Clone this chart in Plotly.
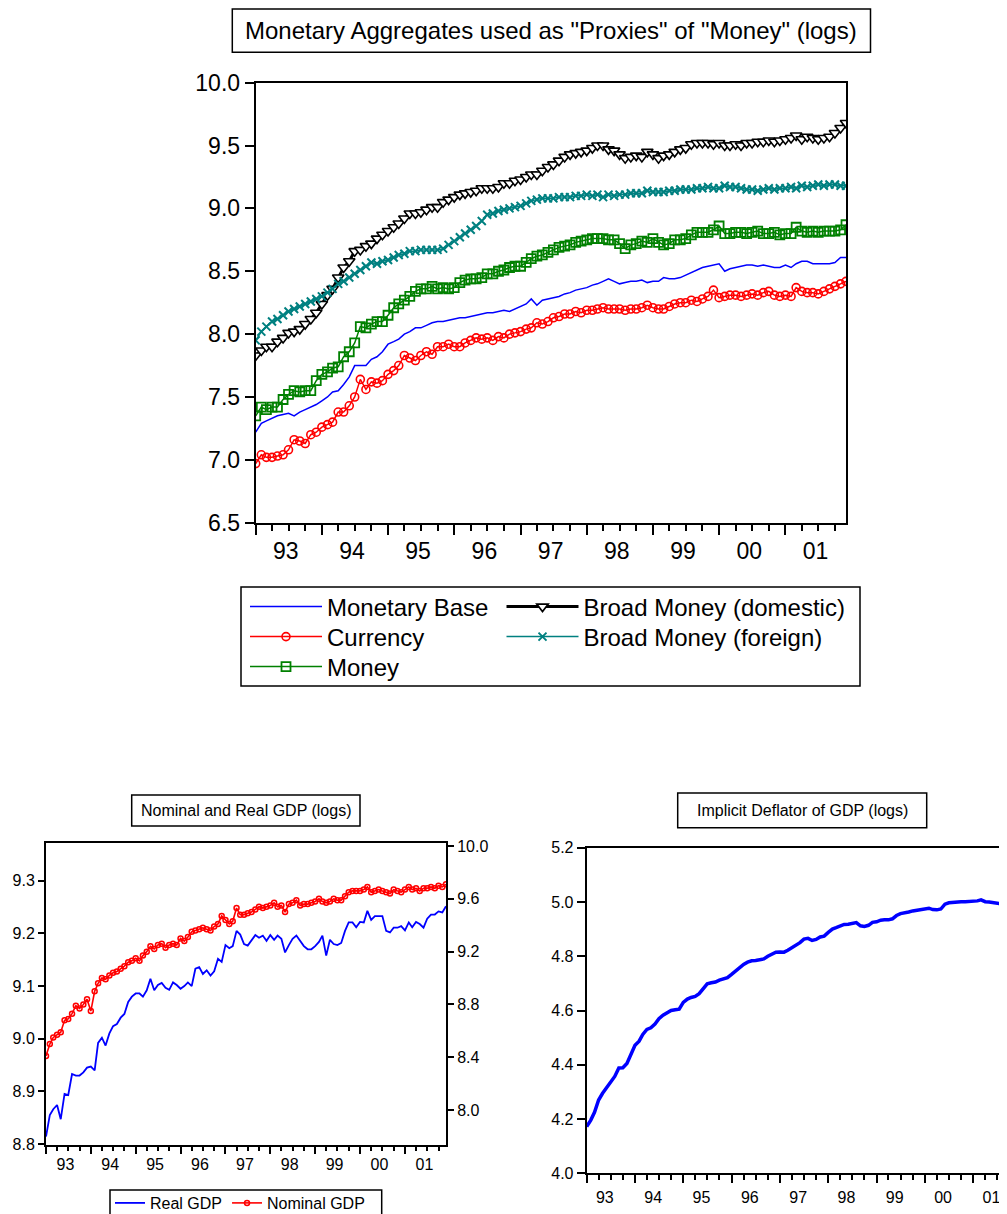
import pandas as pd
import plotly.graph_objects as go

# ---------------- data (monthly, 1993M1 - 2001M12) ----------------
months = pd.date_range("1993-01-01", periods=108, freq="MS")

monetary_base = [
    7.22, 7.29, 7.31, 7.33, 7.35, 7.36, 7.37, 7.35, 7.38, 7.40, 7.42, 7.44,
    7.47, 7.50, 7.54, 7.55, 7.60, 7.66, 7.75, 7.75, 7.75, 7.80, 7.82, 7.86,
    7.92, 7.94, 7.96, 8.00, 8.02, 8.05, 8.05, 8.07, 8.09, 8.10, 8.10, 8.11,
    8.12, 8.13, 8.13, 8.14, 8.15, 8.16, 8.17, 8.17, 8.18, 8.19, 8.18, 8.20,
    8.22, 8.24, 8.28, 8.23, 8.27, 8.28, 8.29, 8.30, 8.32, 8.33, 8.35, 8.36,
    8.37, 8.39, 8.40, 8.42, 8.44, 8.42, 8.40, 8.41, 8.42, 8.42, 8.43, 8.41,
    8.42, 8.42, 8.45, 8.44, 8.44, 8.45, 8.47, 8.49, 8.51, 8.53, 8.54, 8.55,
    8.56, 8.50, 8.52, 8.53, 8.54, 8.55, 8.55, 8.54, 8.55, 8.54, 8.53, 8.53,
    8.55, 8.53, 8.56, 8.58, 8.58, 8.56, 8.56, 8.56, 8.56, 8.57, 8.61, 8.61]

currency = [
    6.97, 7.04, 7.02, 7.02, 7.03, 7.04, 7.08, 7.16, 7.15, 7.13, 7.20, 7.22,
    7.26, 7.28, 7.30, 7.38, 7.38, 7.43, 7.50, 7.64, 7.56, 7.62, 7.61, 7.63,
    7.68, 7.71, 7.75, 7.83, 7.81, 7.79, 7.83, 7.86, 7.84, 7.90, 7.90, 7.92,
    7.90, 7.90, 7.93, 7.95, 7.97, 7.96, 7.97, 7.95, 7.98, 7.97, 8.00, 8.01,
    8.02, 8.04, 8.05, 8.09, 8.08, 8.10, 8.13, 8.14, 8.16, 8.16, 8.18, 8.17,
    8.19, 8.19, 8.20, 8.21, 8.20, 8.20, 8.20, 8.19, 8.20, 8.20, 8.21, 8.23,
    8.21, 8.20, 8.20, 8.22, 8.24, 8.25, 8.25, 8.27, 8.26, 8.28, 8.30, 8.35,
    8.29, 8.30, 8.31, 8.31, 8.30, 8.31, 8.32, 8.31, 8.33, 8.34, 8.31, 8.30,
    8.31, 8.30, 8.37, 8.34, 8.33, 8.33, 8.32, 8.34, 8.36, 8.38, 8.40, 8.42]

money = [
    7.35, 7.42, 7.40, 7.42, 7.42, 7.48, 7.52, 7.55, 7.54, 7.55, 7.55, 7.63,
    7.68, 7.70, 7.73, 7.74, 7.82, 7.86, 7.93, 8.06, 8.05, 8.08, 8.10, 8.10,
    8.15, 8.21, 8.24, 8.27, 8.30, 8.34, 8.36, 8.36, 8.38, 8.36, 8.37, 8.36,
    8.37, 8.41, 8.43, 8.44, 8.44, 8.45, 8.48, 8.48, 8.50, 8.51, 8.53, 8.54,
    8.54, 8.57, 8.60, 8.62, 8.63, 8.65, 8.67, 8.69, 8.70, 8.71, 8.73, 8.74,
    8.75, 8.76, 8.76, 8.76, 8.75, 8.75, 8.72, 8.68, 8.71, 8.72, 8.74, 8.73,
    8.76, 8.73, 8.71, 8.72, 8.75, 8.75, 8.76, 8.79, 8.81, 8.81, 8.81, 8.83,
    8.86, 8.80, 8.80, 8.81, 8.81, 8.80, 8.81, 8.82, 8.80, 8.80, 8.81, 8.79,
    8.80, 8.80, 8.85, 8.82, 8.81, 8.82, 8.81, 8.82, 8.82, 8.82, 8.83, 8.87]

broad_money_domestic = [
    7.83, 7.87, 7.90, 7.90, 7.94, 7.97, 8.01, 8.02, 8.04, 8.08, 8.12, 8.17,
    8.24, 8.31, 8.36, 8.45, 8.53, 8.58, 8.66, 8.67, 8.70, 8.72, 8.76, 8.79,
    8.82, 8.85, 8.88, 8.92, 8.96, 8.96, 8.97, 8.99, 9.01, 9.01, 9.05, 9.07,
    9.09, 9.11, 9.12, 9.13, 9.14, 9.16, 9.16, 9.16, 9.17, 9.20, 9.20, 9.22,
    9.23, 9.25, 9.27, 9.27, 9.30, 9.33, 9.35, 9.38, 9.41, 9.43, 9.44, 9.45,
    9.46, 9.48, 9.50, 9.50, 9.47, 9.46, 9.43, 9.40, 9.41, 9.42, 9.41, 9.45,
    9.43, 9.40, 9.42, 9.43, 9.45, 9.47, 9.48, 9.51, 9.52, 9.52, 9.52, 9.51,
    9.52, 9.50, 9.50, 9.51, 9.50, 9.52, 9.52, 9.53, 9.53, 9.54, 9.53, 9.54,
    9.55, 9.56, 9.58, 9.55, 9.57, 9.56, 9.55, 9.56, 9.57, 9.60, 9.64, 9.68]

broad_money_foreign = [
    7.95, 8.02, 8.06, 8.10, 8.12, 8.15, 8.18, 8.20, 8.22, 8.24, 8.26, 8.28,
    8.30, 8.33, 8.36, 8.40, 8.42, 8.45, 8.48, 8.51, 8.54, 8.57, 8.56, 8.58,
    8.59, 8.61, 8.63, 8.64, 8.66, 8.66, 8.67, 8.67, 8.67, 8.67, 8.68, 8.71,
    8.74, 8.77, 8.80, 8.83, 8.86, 8.90, 8.95, 8.96, 8.98, 8.99, 9.00, 9.01,
    9.02, 9.04, 9.06, 9.07, 9.08, 9.08, 9.08, 9.09, 9.09, 9.09, 9.10, 9.10,
    9.11, 9.10, 9.11, 9.09, 9.11, 9.10, 9.11, 9.11, 9.12, 9.12, 9.12, 9.14,
    9.13, 9.13, 9.13, 9.14, 9.14, 9.15, 9.15, 9.15, 9.16, 9.16, 9.17, 9.16,
    9.16, 9.18, 9.17, 9.17, 9.16, 9.15, 9.15, 9.14, 9.15, 9.16, 9.15, 9.16,
    9.16, 9.17, 9.16, 9.18, 9.17, 9.18, 9.19, 9.18, 9.19, 9.19, 9.18, 9.18]

real_gdp = [
    8.814, 8.855, 8.866, 8.874, 8.847, 8.895, 8.893, 8.933, 8.930, 8.930, 8.936, 8.945,
    8.947, 8.940, 8.992, 9.002, 8.987, 9.010, 9.024, 9.028, 9.040, 9.047, 9.070, 9.080,
    9.086, 9.086, 9.080, 9.092, 9.114, 9.092, 9.102, 9.106, 9.097, 9.093, 9.107, 9.102,
    9.095, 9.100, 9.107, 9.100, 9.133, 9.136, 9.123, 9.130, 9.120, 9.128, 9.152, 9.146,
    9.178, 9.172, 9.176, 9.205, 9.198, 9.180, 9.177, 9.186, 9.197, 9.192, 9.196, 9.186,
    9.197, 9.188, 9.196, 9.190, 9.164, 9.178, 9.190, 9.196, 9.185, 9.176, 9.170, 9.170,
    9.176, 9.184, 9.196, 9.158, 9.188, 9.180, 9.178, 9.182, 9.205, 9.221, 9.221, 9.212,
    9.222, 9.221, 9.243, 9.226, 9.233, 9.233, 9.233, 9.205, 9.202, 9.211, 9.211, 9.214,
    9.206, 9.221, 9.212, 9.222, 9.218, 9.211, 9.228, 9.236, 9.236, 9.242, 9.240, 9.252]

nominal_gdp = [
    8.41, 8.50, 8.55, 8.57, 8.59, 8.68, 8.69, 8.73, 8.79, 8.77, 8.80, 8.84,
    8.75, 8.90, 8.96, 9.00, 8.99, 9.02, 9.04, 9.05, 9.07, 9.09, 9.12, 9.13,
    9.15, 9.13, 9.17, 9.20, 9.24, 9.22, 9.25, 9.26, 9.23, 9.25, 9.26, 9.25,
    9.30, 9.28, 9.31, 9.35, 9.36, 9.37, 9.38, 9.37, 9.36, 9.39, 9.41, 9.47,
    9.44, 9.41, 9.43, 9.53, 9.48, 9.48, 9.49, 9.50, 9.52, 9.54, 9.53, 9.54,
    9.55, 9.57, 9.54, 9.55, 9.50, 9.56, 9.57, 9.59, 9.55, 9.56, 9.56, 9.57,
    9.58, 9.60, 9.58, 9.57, 9.58, 9.60, 9.59, 9.59, 9.62, 9.65, 9.66, 9.66,
    9.66, 9.67, 9.69, 9.65, 9.66, 9.67, 9.66, 9.65, 9.64, 9.67, 9.66, 9.65,
    9.67, 9.69, 9.67, 9.68, 9.66, 9.68, 9.68, 9.69, 9.68, 9.70, 9.69, 9.71]

# visible part of the deflator (the panel is cut at the right edge)
gdp_deflator = [
    4.172, 4.196, 4.225, 4.270, 4.295, 4.315, 4.334, 4.357, 4.388, 4.389, 4.405, 4.436,
    4.472, 4.487, 4.512, 4.530, 4.536, 4.550, 4.570, 4.583, 4.592, 4.600, 4.603, 4.605,
    4.630, 4.642, 4.648, 4.652, 4.662, 4.682, 4.698, 4.702, 4.705, 4.712, 4.718, 4.721,
    4.733, 4.745, 4.760, 4.770, 4.778, 4.783, 4.784, 4.788, 4.790, 4.800, 4.806, 4.815,
    4.816, 4.815, 4.822, 4.831, 4.840, 4.850, 4.863, 4.866, 4.858, 4.862, 4.871, 4.874,
    4.888, 4.900, 4.905, 4.912, 4.917, 4.918, 4.921, 4.924, 4.912, 4.910, 4.914, 4.925,
    4.927, 4.933, 4.934, 4.934, 4.938, 4.950, 4.957, 4.959, 4.963, 4.967, 4.969, 4.970,
    4.975, 4.977, 4.972, 4.971, 4.974, 4.992, 4.997, 4.999, 5.001, 5.001, 5.001, 5.001,
    5.002, 5.004, 5.008, 5.001, 5.000, 4.998, 4.993, 4.993, 4.993]

top_title = 'Monetary Aggregates used as "Proxies" of "Money" (logs)'
gdp_title = "Nominal and Real GDP (logs)"
defl_title = "Implicit Deflator of GDP (logs)"

# ---------------- layout helpers ----------------
# the page body keeps its default 8px margin, so the figure is drawn 8px in from
# the window's top-left corner; positions below are given in window pixels.
OFF = 8
W, H = 1007 - OFF, 1214 - OFF
FONT = "Liberation Sans, Arial, sans-serif"


def px(x):
    return (x - OFF) / W


def py(y):
    return 1 - (y - OFF) / H


fig = go.Figure()

# ---- top panel ----
fig.add_trace(go.Scatter(x=months, y=monetary_base, name="Monetary Base", mode="lines",
                         line=dict(color="#0000FF", width=1.5), legend="legend",
                         xaxis="x", yaxis="y"))
fig.add_trace(go.Scatter(x=months, y=currency, name="Currency", mode="lines+markers",
                         line=dict(color="#FF0000", width=1.5),
                         marker=dict(symbol="circle-open", size=8, color="#FF0000",
                                     line=dict(width=1.6, color="#FF0000")),
                         legend="legend2", xaxis="x", yaxis="y"))
fig.add_trace(go.Scatter(x=months, y=money, name="Money", mode="lines+markers",
                         line=dict(color="#008000", width=1.5),
                         marker=dict(symbol="square-open", size=9, color="#008000",
                                     line=dict(width=1.8, color="#008000")),
                         legend="legend3", xaxis="x", yaxis="y"))
fig.add_trace(go.Scatter(x=months, y=broad_money_domestic, name="Broad Money (domestic)",
                         mode="lines+markers", line=dict(color="#000000", width=3),
                         marker=dict(symbol="triangle-down", size=10, color="#FFFFFF",
                                     line=dict(width=1.6, color="#000000")),
                         legend="legend4", xaxis="x", yaxis="y"))
fig.add_trace(go.Scatter(x=months, y=broad_money_foreign, name="Broad Money (foreign)",
                         mode="lines+markers", line=dict(color="#008080", width=1.5),
                         marker=dict(symbol="x-thin", size=8, color="#008080",
                                     line=dict(width=2, color="#008080")),
                         legend="legend5", xaxis="x", yaxis="y"))

# ---- bottom-left panel ----
fig.add_trace(go.Scatter(x=months, y=real_gdp, name="Real GDP", mode="lines",
                         line=dict(color="#0000FF", width=1.8), legend="legend6",
                         xaxis="x2", yaxis="y2"))
fig.add_trace(go.Scatter(x=months, y=nominal_gdp, name="Nominal GDP", mode="lines+markers",
                         line=dict(color="#FF0000", width=1.6),
                         marker=dict(symbol="circle-open", size=5, color="#FF0000",
                                     line=dict(width=1.5, color="#FF0000")),
                         legend="legend6", xaxis="x2", yaxis="y3"))

# ---- bottom-right panel ----
fig.add_trace(go.Scatter(x=months[:len(gdp_deflator)], y=gdp_deflator, name="Deflator",
                         mode="lines", line=dict(color="#0000FF", width=3.5),
                         showlegend=False, xaxis="x3", yaxis="y4"))


def date_axis(domain, anchor, rng, fsize, lw, major, minor, shift, standoff):
    return dict(domain=domain, anchor=anchor, type="date", range=rng,
                tickmode="linear", tick0="1993-01-01", dtick="M12",
                ticklabelmode="period", tickformat="%y",
                ticklabelshift=shift, ticklabelstandoff=standoff,
                ticks="outside", ticklen=major, tickwidth=2, tickcolor="black",
                minor=dict(ticks="outside", dtick="M3", tick0="1993-01-01",
                           ticklen=minor, tickwidth=1.5, tickcolor="black", showgrid=False),
                showline=True, linecolor="black", linewidth=lw, mirror=True,
                showgrid=False, zeroline=False,
                tickfont=dict(family=FONT, size=fsize, color="black"))


def val_axis(domain, anchor, rng, dtick, tick0, fsize, lw, tlen, side="left", mirror=True,
             overlaying=None):
    d = dict(domain=domain, anchor=anchor, range=rng, tickmode="linear", dtick=dtick,
             tick0=tick0, tickformat=".1f", ticks="outside", ticklen=tlen, tickwidth=2,
             tickcolor="black", showline=True, linecolor="black", linewidth=lw,
             mirror=mirror, showgrid=False, zeroline=False, side=side,
             tickfont=dict(family=FONT, size=fsize, color="black"))
    if overlaying:
        d["overlaying"] = overlaying
    return d


def item_legend(x, y, size):
    return dict(x=px(x), y=py(y), xanchor="left", yanchor="middle",
                font=dict(family=FONT, size=size, color="black"), itemwidth=72,
                bgcolor="rgba(0,0,0,0)", borderwidth=0)


layout = dict(
    width=W, height=H,
    margin=dict(l=0, r=0, t=0, b=0, autoexpand=False),
    paper_bgcolor="white", plot_bgcolor="white",
    font=dict(family=FONT, color="black"),
    xaxis=date_axis([px(255.7), px(846)], "y", ["1993-01-01", "2001-12-01"],
                    23, 2, 10, 6, -3, -3),
    yaxis=val_axis([py(522.7), py(82.7)], "x", [6.5, 10.0], 0.5, 6.5, 23, 2, 9),
    xaxis2=date_axis([px(46), px(446)], "y2", ["1993-01-01", "2001-12-01"],
                     16, 2, 7, 4, -3, -3),
    yaxis2=val_axis([py(1145), py(843)], "x2", [8.798, 9.372], 0.1, 8.8, 16, 2, 6,
                    mirror=False),
    yaxis3=val_axis([py(1145), py(843)], "x2", [7.735, 10.023], 0.4, 8.0, 16, 2, 6,
                    side="right", mirror=False, overlaying="y2"),
    xaxis3=date_axis([px(586.7), 1.0], "y4", ["1993-01-01", "2001-09-13"],
                     16, 2, 8, 5, -6, 0),
    yaxis4=val_axis([py(1173.3), py(847.7)], "x3", [4.0, 5.2], 0.2, 4.0, 16, 2, 8,
                    mirror=False),
    legend=item_legend(245, 607, 24),
    legend2=item_legend(245, 637, 24),
    legend3=item_legend(245, 667, 24),
    legend4=item_legend(501.5, 607, 24),
    legend5=item_legend(501.5, 637, 24),
    legend6=dict(x=px(110), y=py(1203), xanchor="left", yanchor="middle",
                 orientation="h", font=dict(family=FONT, size=16, color="black"),
                 itemwidth=30, bgcolor="rgba(0,0,0,0)", borderwidth=0),
    shapes=[
        dict(type="rect", xref="paper", yref="paper", x0=px(232.3), x1=px(870.5),
             y0=py(52.3), y1=py(9), line=dict(color="black", width=1.5)),
        dict(type="rect", xref="paper", yref="paper", x0=px(241), x1=px(860),
             y0=py(686), y1=py(587), line=dict(color="black", width=1.5)),
        dict(type="rect", xref="paper", yref="paper", x0=px(131.7), x1=px(360),
             y0=py(826), y1=py(795), line=dict(color="black", width=1.5)),
        dict(type="rect", xref="paper", yref="paper", x0=px(677.7), x1=px(926.7),
             y0=py(827.7), y1=py(793), line=dict(color="black", width=1.5)),
        dict(type="rect", xref="paper", yref="paper", x0=px(110), x1=px(381.7),
             y0=py(1232), y1=py(1190), line=dict(color="black", width=1.5)),
    ],
    annotations=[
        dict(text=top_title, xref="paper", yref="paper", x=px(551.4), y=py(31),
             xanchor="center", yanchor="middle", showarrow=False,
             font=dict(family=FONT, size=24, color="black")),
        dict(text=gdp_title, xref="paper", yref="paper", x=px(245.8), y=py(810.5),
             xanchor="center", yanchor="middle", showarrow=False,
             font=dict(family=FONT, size=16, color="black")),
        dict(text=defl_title, xref="paper", yref="paper", x=px(802.2), y=py(810.3),
             xanchor="center", yanchor="middle", showarrow=False,
             font=dict(family=FONT, size=16, color="black")),
    ],
)

fig.update_layout(**layout)
fig.write_html("out.html")
